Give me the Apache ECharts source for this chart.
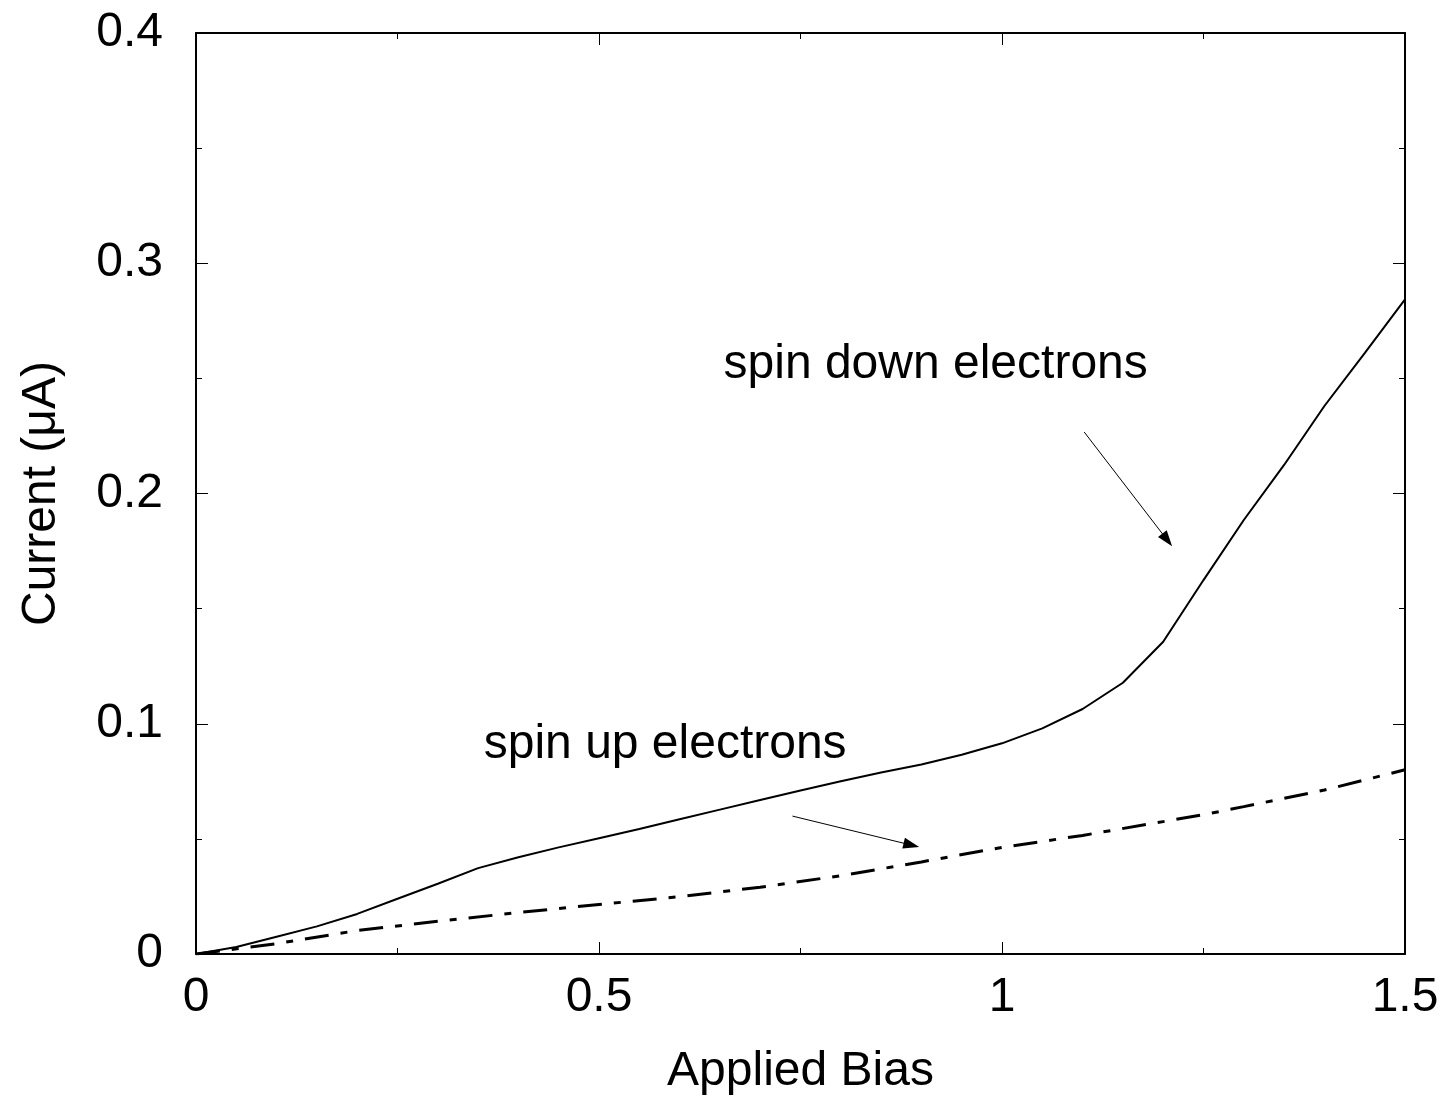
<!DOCTYPE html>
<html>
<head>
<meta charset="utf-8">
<script src="https://cdn.jsdelivr.net/npm/echarts@6/dist/echarts.min.js"></script>
<style>
html,body{margin:0;padding:0;background:#fff;}
#chart{width:1445px;height:1097px;}
</style>
</head>
<body>
<div id="chart"></div>
<script>
// Applied bias values (x)
var biasDown = [0,0.05,0.1,0.15,0.2,0.25,0.3,0.35,0.4,0.45,0.5,0.55,0.6,0.65,0.7,0.75,0.8,0.85,0.9,0.95,1.0,1.05,1.1,1.15,1.2,1.25,1.3,1.35,1.4,1.45,1.5];
var currentDown = [0,0.003,0.0075,0.012,0.0174,0.024,0.0305,0.0373,0.042,0.0463,0.0503,0.0543,0.0585,0.0627,0.0669,0.071,0.075,0.0788,0.0823,0.0865,0.0915,0.098,0.1064,0.1178,0.1356,0.1624,0.1885,0.2124,0.238,0.261,0.2843];
var biasUp = [0,0.1,0.2,0.3,0.4,0.5,0.6,0.7,0.8,0.9,1.0,1.1,1.2,1.25,1.3,1.4,1.45,1.5];
var currentUp = [0,0.0045,0.0102,0.0142,0.018,0.0215,0.0249,0.029,0.034,0.040,0.0463,0.0515,0.0575,0.0605,0.064,0.0712,0.0756,0.080];
var xTicks = [0,0.5,1,1.5];
var yTicks = [0,0.1,0.2,0.3,0.4];
// annotations
var annDownText = 'spin down electrons';
var annDownLabelPos = [0.6545, 0.2558];
var annDownArrow = [[1.102, 0.2267],[1.205, 0.1798]];
var annUpText = 'spin up electrons';
var annUpLabelPos = [0.357, 0.0908];
var annUpArrow = [[0.740, 0.0599],[0.8876, 0.0473]];

var FONT = '"Liberation Sans", Arial, sans-serif';
function zip(a,b){return a.map(function(v,i){return [v,b[i]];});}

function axisCommon(){
  return {
    axisLine:{show:true,onZero:false,lineStyle:{color:'#000',width:2}},
    axisTick:{show:true,inside:true,length:12,lineStyle:{color:'#000',width:1}},
    minorTick:{show:true,splitNumber:2,length:6,lineStyle:{color:'#000',width:1}},
    splitLine:{show:false},
    minorSplitLine:{show:false}
  };
}

var option = {
  animation:false,
  backgroundColor:'#fff',
  grid:{left:196,right:40,top:33,bottom:143,containLabel:false,outerBoundsMode:'none'},
  xAxis:[
    Object.assign(axisCommon(), {
      type:'value', min:0, max:1.5, interval:0.5, position:'bottom',
      name:'Applied Bias', nameLocation:'middle', nameGap:94,
      nameTextStyle:{fontFamily:FONT,fontSize:48,color:'#000'},
      axisLabel:{fontFamily:FONT,fontSize:48,color:'#000',margin:20,
        formatter:function(v){return xTicks.indexOf(+v.toFixed(2))>=0?String(+v.toFixed(2)):'';}}
    }),
    Object.assign(axisCommon(), {
      type:'value', min:0, max:1.5, interval:0.5, position:'top',
      axisLabel:{show:false}
    })
  ],
  yAxis:[
    Object.assign(axisCommon(), {
      type:'value', min:0, max:0.4, interval:0.1, position:'left',
      name:'Current (\u03bcA)', nameLocation:'middle', nameGap:130,
      nameTextStyle:{fontFamily:FONT,fontSize:48,color:'#000'},
      axisLabel:{fontFamily:FONT,fontSize:48,color:'#000',margin:33,
        formatter:function(v){return yTicks.indexOf(+v.toFixed(2))>=0?String(+v.toFixed(2)):'';}}
    }),
    Object.assign(axisCommon(), {
      type:'value', min:0, max:0.4, interval:0.1, position:'right',
      axisLabel:{show:false}
    })
  ],
  series:[
    {
      name:'spin down', type:'line', showSymbol:false, symbol:'none',
      data:zip(biasDown,currentDown),
      lineStyle:{color:'#000',width:2},
      markLine:{
        silent:true, symbol:['none','triangle'], symbolSize:[11,16],
        lineStyle:{color:'#000',width:1,type:'solid'},
        label:{show:false},
        data:[[{coord:annDownArrow[0]},{coord:annDownArrow[1]}]]
      },
      markPoint:{
        silent:true, symbol:'circle', symbolSize:0,
        label:{show:true,position:'right',distance:0,fontFamily:FONT,fontSize:48,color:'#000',
          formatter:function(p){return p.name;}},
        data:[{name:annDownText,coord:annDownLabelPos}]
      }
    },
    {
      name:'spin up', type:'line', showSymbol:false, symbol:'none',
      data:zip(biasUp,currentUp),
      lineStyle:{color:'#000',width:3,type:[24,12,7,12]},
      markLine:{
        silent:true, symbol:['none','triangle'], symbolSize:[11,16],
        lineStyle:{color:'#000',width:1,type:'solid'},
        label:{show:false},
        data:[[{coord:annUpArrow[0]},{coord:annUpArrow[1]}]]
      },
      markPoint:{
        silent:true, symbol:'circle', symbolSize:0,
        label:{show:true,position:'right',distance:0,fontFamily:FONT,fontSize:48,color:'#000',
          formatter:function(p){return p.name;}},
        data:[{name:annUpText,coord:annUpLabelPos}]
      }
    }
  ]
};
var chart = echarts.init(document.getElementById('chart'));
chart.setOption(option);
</script>
</body>
</html>
